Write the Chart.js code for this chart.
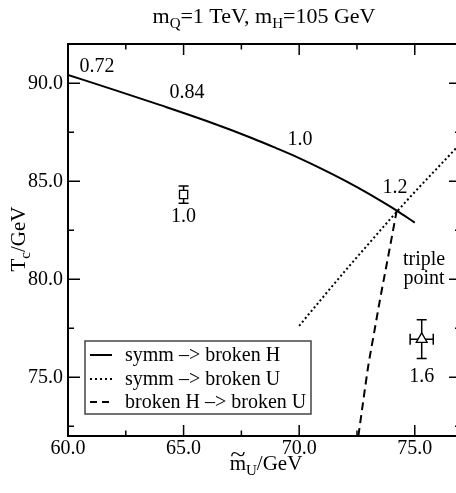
<!DOCTYPE html>
<html><head><meta charset="utf-8">
<script src="https://cdn.jsdelivr.net/npm/chart.js@4/dist/chart.umd.min.js"></script>
<style>html,body{margin:0;padding:0;overflow:hidden;background:#fff}canvas{display:block}</style>
</head><body>
<canvas id="c" width="470" height="493" style="width:470px;height:493px"></canvas>
<script>
// ---- data ----
const symmHX = [60, 62, 64, 66, 68, 69, 70, 71, 72, 73, 74, 74.5, 75];
const symmHY = [90.42, 89.66, 88.88, 88.07, 87.18, 86.69, 86.18, 85.62, 85.02, 84.37, 83.66, 83.28, 82.89];
const symmUX = [70, 71, 72, 73, 74, 75, 76, 77];
const symmUY = [77.62, 79.04, 80.44, 81.8, 83.15, 84.45, 85.7, 86.95];
const brokUX = [72.56, 72.75, 72.99, 73.2, 73.5, 73.85, 74.22];
const brokUY = [72.0, 73.6, 75.59, 76.99, 78.98, 81.16, 83.5];
const pointX = [65.0, 75.3];
const pointY = [84.32, 76.94];
const pointXErr = [0, 0.5];
const pointYErr = [0.44, 0.99];
const pointLabels = ['1.0', '1.6'];
const curveLabels = ['0.72', '0.84', '1.0', '1.2'];
const curveLabelX = [61.25, 65.15, 70.04, 74.15];
const curveLabelY = [90.83, 89.5, 87.12, 84.68];
const xMajor = [60, 65, 70, 75];
const xMinor = [62.5, 67.5, 72.5];
const xTickLabels = ['60.0', '65.0', '70.0', '75.0'];
const yMajor = [75, 80, 85, 90];
const yMinor = [72.5, 77.5, 82.5, 87.5];
const yTickLabels = ['75.0', '80.0', '85.0', '90.0'];
const seriesNames = ['symm \u2013> broken H', 'symm \u2013> broken U', 'broken H \u2013> broken U'];

const serif = '"Liberation Serif", "Times New Roman", serif';
const toXY = (xs, ys) => xs.map((x, i) => ({x: x, y: ys[i]}));

function drawRich(ctx, parts, x, y) {
  let total = 0;
  parts.forEach(p => { ctx.font = p.size + 'px ' + serif; p.w = ctx.measureText(p.t).width; total += p.w; });
  let cx = x - total / 2;
  ctx.textAlign = 'left';
  ctx.textBaseline = 'alphabetic';
  parts.forEach(p => { p.x = cx; ctx.font = p.size + 'px ' + serif; ctx.fillText(p.t, cx, y + (p.dy || 0)); cx += p.w; });
  return parts;
}

const decor = {
  id: 'decor',
  beforeDatasetsDraw(chart) {
    const ctx = chart.ctx, xs = chart.scales.x, ys = chart.scales.y;
    ctx.save();
    ctx.strokeStyle = '#000';
    ctx.lineWidth = 1.5;
    pointX.forEach((v, i) => {
      const px = xs.getPixelForValue(v), py = ys.getPixelForValue(pointY[i]);
      if (pointYErr[i]) {
        const t = ys.getPixelForValue(pointY[i] + pointYErr[i]), b = ys.getPixelForValue(pointY[i] - pointYErr[i]);
        ctx.beginPath(); ctx.moveTo(px, t); ctx.lineTo(px, b);
        ctx.moveTo(px - 5, t); ctx.lineTo(px + 5, t);
        ctx.moveTo(px - 5, b); ctx.lineTo(px + 5, b); ctx.stroke();
      }
      if (pointXErr[i]) {
        const l = xs.getPixelForValue(v - pointXErr[i]), r = xs.getPixelForValue(v + pointXErr[i]);
        ctx.beginPath(); ctx.moveTo(l, py); ctx.lineTo(r, py);
        ctx.moveTo(l, py - 5.5); ctx.lineTo(l, py + 5.5);
        ctx.moveTo(r, py - 5.5); ctx.lineTo(r, py + 5.5); ctx.stroke();
      }
    });
    ctx.restore();
  },
  afterDraw(chart) {
    const ctx = chart.ctx, xs = chart.scales.x, ys = chart.scales.y, a = chart.chartArea;
    ctx.save();
    ctx.fillStyle = '#000';
    ctx.strokeStyle = '#000';
    // frame
    ctx.lineWidth = 2;
    ctx.strokeRect(a.left, a.top, a.right - a.left, a.bottom - a.top);
    // ticks (inward on all sides)
    ctx.lineWidth = 1.5;
    ctx.beginPath();
    const tx = (vals, len) => vals.forEach(v => {
      const p = xs.getPixelForValue(v);
      ctx.moveTo(p, a.bottom); ctx.lineTo(p, a.bottom - len);
      ctx.moveTo(p, a.top); ctx.lineTo(p, a.top + len);
    });
    const ty = (vals, len) => vals.forEach(v => {
      const p = ys.getPixelForValue(v);
      ctx.moveTo(a.left, p); ctx.lineTo(a.left + len, p);
      ctx.moveTo(a.right, p); ctx.lineTo(a.right - len, p);
    });
    tx(xMajor, 11); tx(xMinor, 5.5); ty(yMajor, 12); ty(yMinor, 6);
    ctx.stroke();
    // tick labels
    ctx.font = '20px ' + serif;
    ctx.textAlign = 'center'; ctx.textBaseline = 'middle';
    xMajor.forEach((v, i) => ctx.fillText(xTickLabels[i], xs.getPixelForValue(v), a.bottom + 13));
    ctx.textAlign = 'right';
    yMajor.forEach((v, i) => ctx.fillText(yTickLabels[i], a.left - 5, ys.getPixelForValue(v) + 1));
    // curve labels
    ctx.textAlign = 'center';
    curveLabels.forEach((t, i) => ctx.fillText(t, xs.getPixelForValue(curveLabelX[i]), ys.getPixelForValue(curveLabelY[i])));
    // point labels
    pointLabels.forEach((t, i) => ctx.fillText(t, xs.getPixelForValue(pointX[i]), ys.getPixelForValue(pointY[i] - 1.13 - (i ? 0.8 : 0))));
    // triple point
    ctx.fillText('triple', xs.getPixelForValue(75.4), ys.getPixelForValue(81.0));
    ctx.fillText('point', xs.getPixelForValue(75.4), ys.getPixelForValue(80.03));
    // legend
    const lx = 85, ly = 341, lw = 226, lh = 73;
    ctx.fillStyle = '#fff';
    ctx.fillRect(lx, ly, lw, lh);
    ctx.strokeStyle = '#444'; ctx.lineWidth = 1.5;
    ctx.strokeRect(lx, ly, lw, lh);
    ctx.strokeStyle = '#000'; ctx.fillStyle = '#000'; ctx.lineWidth = 2;
    const rows = [355, 379, 402];
    const dashes = [[], [2, 3], [7, 5]];
    rows.forEach((ry, i) => {
      ctx.setLineDash(dashes[i]);
      ctx.beginPath(); ctx.moveTo(90, ry); ctx.lineTo(112, ry); ctx.stroke();
      ctx.setLineDash([]);
      ctx.textAlign = 'left'; ctx.textBaseline = 'middle';
      ctx.font = '20px ' + serif;
      ctx.fillText(seriesNames[i], 125, ry + 1);
    });
    // title
    drawRich(ctx, [
      {t: 'm', size: 22}, {t: 'Q', size: 15, dy: 5}, {t: '=1 TeV, m', size: 22},
      {t: 'H', size: 15, dy: 5}, {t: '=105 GeV', size: 22}
    ], 264, 23);
    // x title
    const xp = drawRich(ctx, [{t: 'm', size: 21}, {t: 'U', size: 15, dy: 5}, {t: '/GeV', size: 21}], 266, 470);
    ctx.save();
    ctx.translate(xp[0].x + xp[0].w / 2, 461);
    ctx.scale(1.35, 1);
    ctx.font = '21px ' + serif; ctx.textAlign = 'center'; ctx.textBaseline = 'alphabetic';
    ctx.fillText('~', 0, 0);
    ctx.restore();
    // y title
    ctx.save();
    ctx.translate(25, 239);
    ctx.rotate(-Math.PI / 2);
    drawRich(ctx, [{t: 'T', size: 21}, {t: 'c', size: 15, dy: 5}, {t: '/GeV', size: 21}], 0, 0);
    ctx.restore();
    ctx.restore();
  }
};

new Chart(document.getElementById('c'), {
  type: 'scatter',
  data: {
    datasets: [
      {label: seriesNames[0], data: toXY(symmHX, symmHY), showLine: true, borderColor: '#000', borderWidth: 2,
       pointRadius: 0, cubicInterpolationMode: 'monotone'},
      {label: seriesNames[1], data: toXY(symmUX, symmUY), showLine: true, borderColor: '#000', borderWidth: 2,
       borderDash: [2, 2.6], pointRadius: 0, cubicInterpolationMode: 'monotone'},
      {label: seriesNames[2], data: toXY(brokUX, brokUY), showLine: true, borderColor: '#000', borderWidth: 2,
       borderDash: [8, 5], pointRadius: 0, cubicInterpolationMode: 'monotone'},
      {label: 'sq', data: [{x: pointX[0], y: pointY[0]}], pointStyle: 'rect', pointRadius: 5.8,
       backgroundColor: '#fff', borderColor: '#000', borderWidth: 1.3},
      {label: 'tri', data: [{x: pointX[1], y: pointY[1]}], pointStyle: 'triangle', pointRadius: 6.3,
       backgroundColor: '#fff', borderColor: '#000', borderWidth: 1.3}
    ]
  },
  options: {
    responsive: false,
    animation: false,
    devicePixelRatio: 1,
    layout: {padding: {left: 68, top: 44, right: 9, bottom: 57}},
    plugins: {legend: {display: false}, tooltip: {enabled: false}, title: {display: false}},
    scales: {
      x: {type: 'linear', min: 60, max: 77, display: false},
      y: {type: 'linear', min: 72, max: 92, display: false}
    }
  },
  plugins: [decor]
});
</script>
</body></html>
